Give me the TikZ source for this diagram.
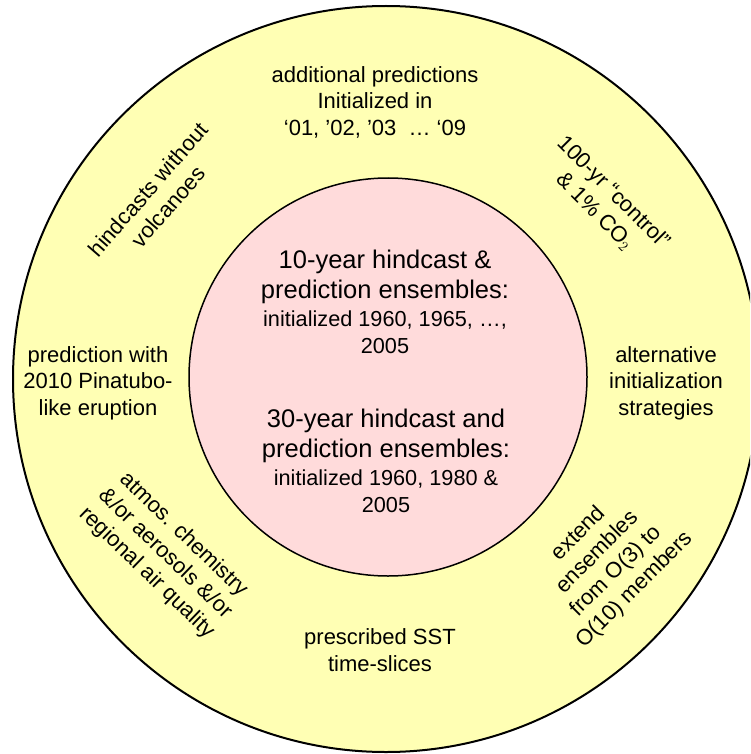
\documentclass[tikz,border=0pt]{standalone}
\usepackage{fontspec}
\setmainfont{Liberation Sans}
\definecolor{ringyellow}{RGB}{255,255,180}
\definecolor{corepink}{RGB}{255,219,219}
\newcommand{\smallsz}{\fontsize{21.7}{27}\selectfont}
\tikzset{
  ringtext/.style={align=center,inner sep=0pt,font=\fontsize{22}{26.5}\selectfont},
  coretext/.style={align=center,inner sep=0pt,font=\fontsize{25.5}{30}\selectfont},
}
\begin{document}
\begin{tikzpicture}[x=1pt,y=-1pt]
\useasboundingbox (0,0) rectangle (750,754);
\begin{scope}
\clip (0,0) rectangle (750,754);
\fill[white] (0,0) rectangle (750,754);
\node[circle,draw=black,line width=2pt,fill=ringyellow,minimum size=746pt,inner sep=0pt] (outer) at (386,379) {};
\node[circle,draw=black,line width=1.5pt,fill=corepink,minimum size=398pt,inner sep=0pt] (core) at (388,377) {};
\end{scope}
% centre texts
\node[coretext] (ten) at (385,302) {10-year hindcast \&\\prediction ensembles:\\[-2pt]\smallsz initialized 1960, 1965, \dots,\\[-3pt]\smallsz 2005};
\node[coretext] (thirty) at (386,461) {30-year hindcast and\\prediction ensembles:\\[-2pt]\smallsz initialized 1960, 1980 \&\\[-3pt]\smallsz 2005};
% ring texts
\node[ringtext] (top) at (375,102) {additional predictions\\Initialized in\\‘01, ’02, ’03 \ \dots\ ‘09};
\node[ringtext] (left) at (98,383) {prediction with\\2010 Pinatubo-\\like eruption};
\node[ringtext] (right) at (666,383) {alternative\\initialization\\strategies};
\node[ringtext] (bottom) at (380,650) {prescribed SST\\time-slices};
\node[ringtext,rotate=49] (ul) at (158,198) {hindcasts without\\volcanoes};
\node[ringtext,rotate=-45] (ur) at (604,202) {100-yr “control”\\\& 1\% CO$_2$};
\node[ringtext,rotate=-44] (ll) at (165,554) {atmos. chemistry\\\&/or aerosols \&/or\\regional air quality};
\node[ringtext,rotate=45] (lr) at (607,562) {extend\\ensembles\\from O(3) to\\O(10) members};
\end{tikzpicture}
\end{document}
